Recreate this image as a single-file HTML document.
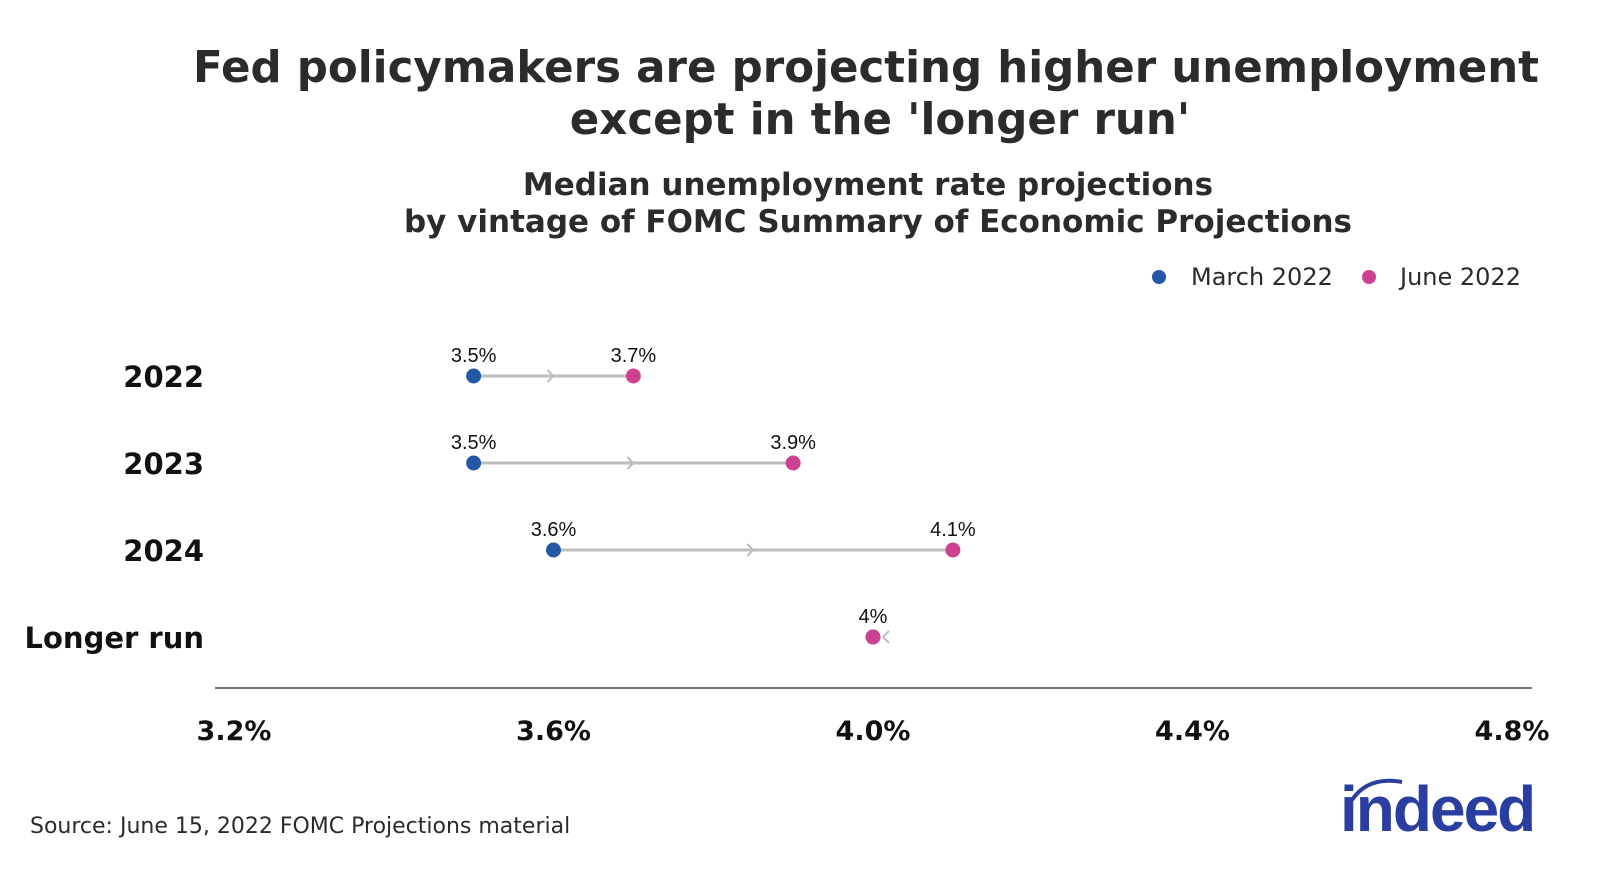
<!DOCTYPE html>
<html><head><meta charset="utf-8"><style>
body{margin:0;background:#fff;}
svg text{font-family:"Liberation Sans",sans-serif;}
.t{font-family:"DejaVu Sans","Liberation Sans",sans-serif;font-weight:bold;fill:#2b2b2b;}
</style></head><body>
<svg id="chart" width="1600" height="873" viewBox="0 0 1600 873">
<text class="t" x="866" y="82" font-size="43.5" text-anchor="middle">Fed policymakers are projecting higher unemployment</text>
<text class="t" x="880" y="134" font-size="43.5" text-anchor="middle">except in the 'longer run'</text>
<text class="t" x="868" y="195" font-size="31" text-anchor="middle">Median unemployment rate projections</text>
<text class="t" x="878" y="232" font-size="31" text-anchor="middle">by vintage of FOMC Summary of Economic Projections</text>
<g>
<circle cx="1159" cy="277" r="7" fill="#2557a7"/>
<text x="1191" y="285" font-size="24" fill="#2b2b2b" style="font-family:'DejaVu Sans',sans-serif">March 2022</text>
<circle cx="1369" cy="277" r="7" fill="#cc4190"/>
<text x="1400" y="285" font-size="24" fill="#2b2b2b" style="font-family:'DejaVu Sans',sans-serif">June 2022</text>
</g>
<line x1="215" y1="688" x2="1532" y2="688" stroke="#777" stroke-width="2"/>
<g id="plot"></g>
<text x="30" y="833" font-size="22" fill="#2b2b2b" style="font-family:'DejaVu Sans',sans-serif">Source: June 15, 2022 FOMC Projections material</text>
<g>
<path d="M1352 800 Q1368 776 1402 782" stroke="#2a3da0" stroke-width="4" fill="none"/>
<text x="1340" y="831" font-size="64" font-weight="bold" fill="#2a3da0" letter-spacing="-2">indeed</text>
</g>
</svg>
<script>
const categories=["2022","2023","2024","Longer run"];
const march=[3.5,3.5,3.6,4.0];
const june=[3.7,3.9,4.1,4.0];
const ticks=[3.2,3.6,4.0,4.4,4.8];
const tickLabels=["3.2%","3.6%","4.0%","4.4%","4.8%"];
const marchLabels=["3.5%","3.5%","3.6%",""];
const juneLabels=["3.7%","3.9%","4.1%","4%"];
const NS="http://www.w3.org/2000/svg";
const x=v=>234+(v-3.2)*(1278/1.6);
const y=i=>376+i*87;
const g=document.getElementById('plot');
function mk(t,a){const e=document.createElementNS(NS,t);for(const k in a)e.setAttribute(k,a[k]);g.appendChild(e);return e;}
ticks.forEach((v,i)=>{
 const e=mk('text',{x:x(v),y:740,'font-size':27,'font-weight':'bold','text-anchor':'middle',fill:'#111',style:"font-family:'DejaVu Sans',sans-serif"});
 e.textContent=tickLabels[i];
 
 
});
categories.forEach((c,i)=>{
 const cy=y(i);
 const l=mk('text',{x:204,y:cy+11,'font-size':29,'font-weight':'bold','text-anchor':'end',fill:'#111',style:"font-family:'DejaVu Sans',sans-serif"});
 l.textContent=c;
 
 
 const x1=x(march[i]),x2=x(june[i]);
 const ln=mk('line',{x1:x1,y1:cy,x2:x2,y2:cy,stroke:'#bdbdbd','stroke-width':3});
 
 
 let mx=(x1+x2)/2, d=x2>=x1?1:-1;
 if(Math.abs(x2-x1)<1){mx=x2+10;d=-1;}
 const ar=mk('path',{d:`M${mx-6*d} ${cy-6} L${mx} ${cy} L${mx-6*d} ${cy+6}`,stroke:'#bdbdbd','stroke-width':2,fill:'none'});
 
 
 const m=mk('circle',{cx:x1,cy:cy,r:7.5,fill:'#2557a7'});
 
 
 const j=mk('circle',{cx:x2,cy:cy,r:7.5,fill:'#cc4190'});
 
 
 if(marchLabels[i]){const t=mk('text',{x:x1,y:cy-14,'font-size':20,'text-anchor':'middle',fill:'#111'});t.textContent=marchLabels[i];
 
 }
 const t2=mk('text',{x:x2,y:cy-14,'font-size':20,'text-anchor':'middle',fill:'#111'});t2.textContent=juneLabels[i];
 
 
});
</script>
</body></html>
